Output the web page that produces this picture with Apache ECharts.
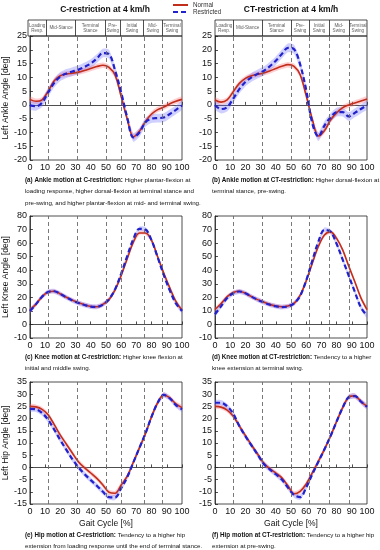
<!DOCTYPE html>
<html><head><meta charset="utf-8">
<script src="https://cdn.jsdelivr.net/npm/echarts@6/dist/echarts.min.js"></script>
<style>html,body{margin:0;padding:0;background:#fff}#c{width:380px;height:550px}</style>
</head><body><div id="c"></div>
<script>
// ---------- data ----------
const gait = [0,4,8,12,16,20,24,28,32,36,40,44,48,52,56,60,64,68,72,76,80,84,88,92,96,100];
const xTicks = [0,10,20,30,40,50,60,70,80,90,100];

const ankleCNormal     = [2.0,1.3,1.8,5.0,8.8,10.6,11.2,11.5,11.9,12.5,13.2,13.9,14.4,13.6,10.8,3.0,-5.2,-11.6,-9.6,-6.0,-3.3,-1.7,-0.8,0.4,1.3,2.0];
const ankleCRestricted = [-0.2,-0.5,0.8,4.5,8.0,10.3,11.4,12.1,12.8,13.8,15.0,16.8,18.8,18.4,12.5,4.5,-4.6,-11.8,-10.0,-6.3,-5.0,-4.8,-4.6,-3.3,-1.8,-0.2];
const ankleCTNormal     = [1.8,1.0,1.8,4.8,7.8,9.6,10.6,11.1,11.6,12.3,13.2,14.0,14.6,14.0,11.0,3.3,-5.1,-11.3,-9.4,-5.5,-2.9,-1.0,0.0,0.7,1.4,2.1];
const ankleCTRestricted = [-0.1,-1.5,-0.8,2.3,5.7,8.3,10.0,11.2,12.3,14.0,16.0,18.5,20.7,20.2,14.7,5.4,-6.6,-11.5,-7.5,-4.6,-2.6,-2.6,-4.2,-2.9,-1.5,-0.1];

const kneeCNormal      = [10.5,15,20.5,24,24.5,22.5,20,17.8,16,14.5,13.3,13,14.8,18.3,25.5,36,48.5,60.5,67.5,67.5,62,50,38,27,17,10.5];
const kneeCRestricted  = [10,15,20.5,24,24.5,22.5,20,17.6,15.8,14.3,13.2,13,14.6,18.5,26,37.5,50.5,63,70.5,70,62,49.5,36.5,25,15.5,10];
const kneeCTNormal     = [11,15.5,20.5,23.5,24.5,23,20.5,18.3,16.5,14.8,13.6,13.0,13.6,15.5,21.5,32,45,57.5,66,68.3,63.5,55,43,31.5,19.6,11];
const kneeCTRestricted = [7.5,13.5,19.5,23,24.3,23,20.5,18.2,16.3,14.6,13.4,12.8,13.3,15.5,21,32.5,47,61,69.8,68.5,59.5,47.8,35.9,24,12.5,6.5];

const hipCNormal      = [25,24.8,23.8,21.6,17.5,13.2,9.5,5.8,2.2,-0.2,-2.3,-4.5,-7.2,-10.2,-10.6,-7.2,-3.6,2.1,8,13.8,20.8,26.5,29.7,28.5,26,24.5];
const hipCRestricted  = [24,23.8,22.3,19.5,15.5,11.2,7.2,3.3,0,-2.8,-5.2,-7.5,-10,-12.2,-12.3,-8.5,-4,2,8,14,20.8,26.5,29.7,28.3,25.5,23.8];
const hipCTNormal     = [25,24.7,23.5,21,17,13,9.2,5.5,1.8,-0.5,-2.3,-4.3,-7.5,-10.8,-9.8,-6.8,-2.2,2.5,7.4,12.8,18.8,24.5,28.8,29.3,27,25];
const hipCTRestricted = [26.5,26.5,25,22,17,12.8,9,5.3,1.5,-0.8,-2.8,-5,-8.3,-11.3,-12.2,-8.2,-2.8,2.3,7.4,12.8,18.8,24.5,28.8,29.2,27,24.8];

// standard deviations (half band width) read from the shaded areas
const sdAnkle = [1.0, 1.6];
const sdKnee  = [1.5, 1.8];
const sdHip   = [1.0, 1.1];

const phasesC  = [12,31,50,60,75,87];
const phasesCT = [12,31,50,62,75,88];
const phaseNames = ['Loading\nResp.','Mid-Stance','Terminal\nStance','Pre-\nSwing','Initial\nSwing','Mid-\nSwing','Terminal\nSwing'];

const ankleTicks = [-20,25,5];
const kneeTicks  = [-10,80,10];
const hipTicks   = [-15,35,5];

const panelTitles = ['C-restriction at 4 km/h','CT-restriction at 4 km/h'];
const yNames = ['Left Ankle Angle [deg]','Left Knee Angle [deg]','Left Hip Angle [deg]'];
const xName = 'Gait Cycle [%]';
const captions = [
  ['(a) Ankle motion at C-restriction:', ' Higher plantar-flexion at\nloading response, higher dorsal-flexion at terminal stance and\npre-swing, and higher plantar-flexion at mid- and terminal swing.'],
  ['(b) Ankle motion at CT-restriction:', ' Higher dorsal-flexion at\nterminal stance, pre-swing.'],
  ['(c) Knee motion at C-restriction:', ' Higher knee flexion at\ninitial and middle swing.'],
  ['(d) Knee motion at CT-restriction:', ' Tendency to a higher\nknee extension at terminal swing.'],
  ['(e) Hip motion at C-restriction:', ' Tendency to a higher hip\nextension from loading response until the end of terminal stance.'],
  ['(f) Hip motion at CT-restriction:', ' Tendency to a higher hip\nextension at pre-swing.']
];

// ---------- styling ----------
const FONT = 'Liberation Sans, Arial, sans-serif';
const NARROW = 'Liberation Sans Narrow, Liberation Sans, Arial, sans-serif';
const RED = '#c22e1c', BLUE = '#2222cc';
const RED_BAND = 'rgba(255,110,120,0.34)', BLUE_BAND = 'rgba(110,110,255,0.32)';

const colLeft = [28, 215], colWidth = [154, 152];
const rowTop = [36, 216, 382], rowHeight = [124, 122, 122];

const panels = [
  {n: ankleCNormal, r: ankleCRestricted, sd: sdAnkle, ph: phasesC, t: ankleTicks},
  {n: ankleCTNormal, r: ankleCTRestricted, sd: sdAnkle, ph: phasesCT, t: ankleTicks},
  {n: kneeCNormal, r: kneeCRestricted, sd: sdKnee, ph: phasesC, t: kneeTicks},
  {n: kneeCTNormal, r: kneeCTRestricted, sd: sdKnee, ph: phasesCT, t: kneeTicks},
  {n: hipCNormal, r: hipCRestricted, sd: sdHip, ph: phasesC, t: hipTicks},
  {n: hipCTNormal, r: hipCTRestricted, sd: sdHip, ph: phasesCT, t: hipTicks}
];

const grid = [], xAxis = [], yAxis = [], series = [];

function band(idx, mean, sd, color) {
  return {
    type: 'custom', xAxisIndex: idx, yAxisIndex: idx, silent: true, z: 1,
    data: [[50, 0]],
    renderItem: function (params, api) {
      const pts = [];
      for (let i = 0; i < gait.length; i++) pts.push(api.coord([gait[i], mean[i] + sd]));
      for (let i = gait.length - 1; i >= 0; i--) pts.push(api.coord([gait[i], mean[i] - sd]));
      return {type: 'polygon', shape: {points: pts, smooth: 0.2}, style: {fill: color}};
    }
  };
}

panels.forEach(function (p, i) {
  const col = i % 2, row = Math.floor(i / 2);
  grid.push({left: colLeft[col], top: rowTop[row], width: colWidth[col], height: rowHeight[row],
    show: true, borderColor: '#222', borderWidth: 0.8, backgroundColor: 'transparent'});
  xAxis.push({gridIndex: i, type: 'value', min: 0, max: 100, interval: 10,
    axisLine: {show: true, lineStyle: {color: '#222', width: 0.8}},
    axisTick: {show: true, inside: true, length: 3, lineStyle: {color: '#222', width: 0.8}},
    axisLabel: {fontSize: 9, color: '#111', margin: 3, fontFamily: FONT},
    splitLine: {show: false},
    name: row === 2 ? xName : '', nameLocation: 'middle', nameGap: 15,
    nameTextStyle: {fontSize: 8.5, color: '#111', fontFamily: FONT}});
  yAxis.push({gridIndex: i, type: 'value', min: p.t[0], max: p.t[1], interval: p.t[2],
    axisLine: {show: true, lineStyle: {color: '#222', width: 0.8}},
    axisTick: {show: true, inside: true, length: 3, lineStyle: {color: '#222', width: 0.8}},
    axisLabel: {fontSize: 9, color: '#111', margin: 3, fontFamily: FONT},
    splitLine: {show: false},
    name: col === 0 ? yNames[row] : '', nameLocation: 'middle', nameGap: 15,
    nameTextStyle: {fontSize: 8.5, color: '#111', fontFamily: FONT}});

  series.push(band(i, p.n, p.sd[0], RED_BAND));
  series.push(band(i, p.r, p.sd[1], BLUE_BAND));
  series.push({type: 'line', name: 'Normal', xAxisIndex: i, yAxisIndex: i,
    data: gait.map(function (x, k) { return [x, p.n[k]]; }),
    smooth: 0.35, symbol: 'none', z: 3, silent: true,
    lineStyle: {color: RED, width: 1.6}, itemStyle: {color: RED},
    markLine: {silent: true, symbol: ['none', 'none'], label: {show: false},
      lineStyle: {type: [4, 3], color: '#6a6a6a', width: 0.9},
      data: p.ph.map(function (v) { return {xAxis: v}; })}});
  series.push({type: 'line', name: 'Restricted', xAxisIndex: i, yAxisIndex: i,
    data: gait.map(function (x, k) { return [x, p.r[k]]; }),
    smooth: 0.35, symbol: 'none', z: 4, silent: true,
    lineStyle: {color: BLUE, width: 2.2, type: [5, 3]}, itemStyle: {color: BLUE}});
});

// phase header boxes
[phasesC, phasesCT].forEach(function (ph, col) {
  const gi = grid.length;
  grid.push({left: colLeft[col], top: 20, width: colWidth[col], height: 16,
    show: true, borderColor: '#222', borderWidth: 0.8, backgroundColor: 'transparent'});
  xAxis.push({gridIndex: gi, type: 'value', min: 0, max: 100, show: false});
  yAxis.push({gridIndex: gi, type: 'value', min: 0, max: 1, show: false});
  const b = [0].concat(ph).concat([100]);
  series.push({type: 'scatter', xAxisIndex: gi, yAxisIndex: gi, silent: true,
    symbolSize: 1, itemStyle: {color: 'rgba(0,0,0,0)'},
    data: phaseNames.map(function (nm, k) { return {name: nm, value: [(b[k] + b[k + 1]) / 2, 0.5]}; }),
    label: {show: true, position: 'inside', formatter: '{b}', fontSize: 4.6, lineHeight: 5.2,
      color: '#333', fontFamily: FONT, align: 'center', verticalAlign: 'middle'},
    markLine: {silent: true, symbol: ['none', 'none'], label: {show: false},
      lineStyle: {type: 'solid', color: '#222', width: 0.8},
      data: ph.map(function (v) { return {xAxis: v}; })}});
});

const graphic = [];
panelTitles.forEach(function (t, col) {
  graphic.push({type: 'text', x: colLeft[col] + colWidth[col] / 2, y: 10,
    style: {text: t, fontSize: 8.5, fontWeight: 'bold', fontFamily: FONT, fill: '#111',
      align: 'center', verticalAlign: 'middle'}});
});
const capTop = [174, 351, 529];
captions.forEach(function (c, i) {
  const col = i % 2, row = Math.floor(i / 2);
  graphic.push({type: 'text', x: colLeft[col] - 3, y: capTop[row],
    style: {text: '{b|' + c[0] + '}{n|' + c[1].split('\n')[0] + '}\n' + c[1].split('\n').slice(1).map(function (s) { return '{n|' + s + '}'; }).join('\n'),
      align: 'left', verticalAlign: 'top',
      rich: {
        b: {fontSize: 6.3, fontWeight: 'bold', fontFamily: NARROW, fill: '#111', lineHeight: 11.8},
        n: {fontSize: 6.2, fontFamily: NARROW, fill: '#111', lineHeight: 11.8}
      }}});
});

const chart = echarts.init(document.getElementById('c'), null, {renderer: 'canvas'});
chart.setOption({
  animation: false,
  backgroundColor: '#fff',
  legend: {data: ['Normal', 'Restricted'], orient: 'vertical', left: 172, top: 2,
    itemWidth: 15, itemHeight: 7, itemGap: 1, padding: 0, selectedMode: false,
    itemStyle: {opacity: 0},
    textStyle: {fontSize: 6.3, color: '#333', fontFamily: FONT}},
  grid: grid, xAxis: xAxis, yAxis: yAxis, series: series, graphic: graphic
});
</script>
</body></html>
